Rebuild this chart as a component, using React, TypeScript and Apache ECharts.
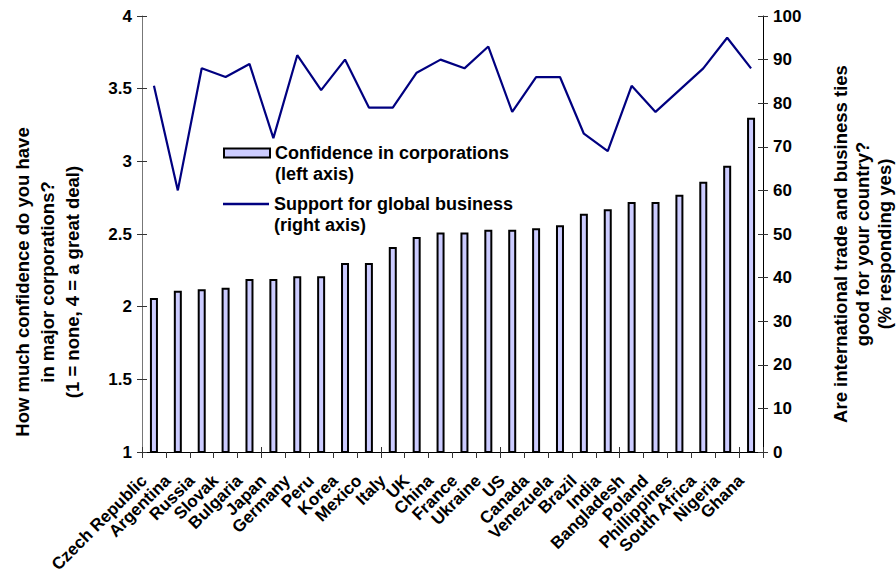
import { useEffect, useRef } from 'react';
import * as echarts from 'echarts';

const countries = [
  'Czech Republic', 'Argentina', 'Russia', 'Slovak', 'Bulgaria', 'Japan', 'Germany', 'Peru',
  'Korea', 'Mexico', 'Italy', 'UK', 'China', 'France', 'Ukraine', 'US', 'Canada', 'Venezuela',
  'Brazil', 'India', 'Bangladesh', 'Poland', 'Phillippines', 'South Africa', 'Nigeria', 'Ghana',
];
const confidence = [
  2.06, 2.11, 2.12, 2.13, 2.19, 2.19, 2.21, 2.21, 2.3, 2.3, 2.41, 2.48, 2.51, 2.51, 2.53, 2.53,
  2.54, 2.56, 2.64, 2.67, 2.72, 2.72, 2.77, 2.86, 2.97, 3.3,
];
const support = [
  84, 60, 88, 86, 89, 72, 91, 83, 90, 79, 79, 87, 90, 88, 93, 78, 86, 86, 73, 69, 84, 78, 83, 88,
  95, 88,
];
const barName = 'Confidence in corporations';
const lineName = 'Support for global business';
const leftTitle = 'How much confidence do you have\nin major corporations?\n(1 = none, 4 = a great deal)';
const rightTitle = 'Are international trade and business ties\ngood for your country?\n(% responding yes)';

const FONT = "'Liberation Sans', Arial, sans-serif";

export default function App() {
  const ref = useRef<HTMLDivElement>(null);
  useEffect(() => {
    document.body.style.margin = '0';
    if (!ref.current) return;
    const chart = echarts.init(ref.current, undefined, { renderer: 'svg' });
    const labelStyle = { color: '#000', fontWeight: 'bold' as const, fontSize: 17, fontFamily: FONT };
    const legendText = {
      color: '#000',
      fontWeight: 'bold' as const,
      fontSize: 18,
      fontFamily: FONT,
      lineHeight: 21,
    };
    chart.setOption({
      animation: false,
      textStyle: { fontFamily: FONT },
      grid: {
        left: 142,
        right: 133,
        top: 16,
        bottom: 127,
        containLabel: false,
        outerBoundsMode: 'none',
      },
      legend: [
        {
          data: [barName],
          left: 223,
          top: 121.5,
          padding: 0,
          icon: 'rect',
          itemWidth: 46,
          itemHeight: 9,
          itemGap: 5,
          formatter: (n: string) => '\n' + n + '\n(left axis)',
          textStyle: legendText,
          itemStyle: { borderColor: '#000', borderWidth: 2 },
        },
        {
          data: [lineName],
          left: 223,
          top: 172.5,
          padding: 0,
          icon: 'rect',
          itemWidth: 46,
          itemHeight: 2.4,
          formatter: (n: string) => '\n' + n + '\n(right axis)',
          textStyle: legendText,
          itemStyle: { color: '#000080', borderWidth: 0 },
        },
      ],
      xAxis: [
        {
          type: 'category',
          data: countries,
          axisLine: { onZero: false, lineStyle: { color: '#000', width: 1 } },
          axisTick: { show: true, length: 6, lineStyle: { color: '#333' } },
          axisLabel: {
            interval: 0,
            rotate: 45,
            margin: 16,
            color: '#000',
            fontWeight: 'bold',
            fontSize: 17,
            fontFamily: FONT,
            formatter: (v: string) => v + '\u00a0\u00a0\u00a0',
          },
          splitLine: { show: false },
        },
        {
          type: 'category',
          data: countries,
          position: 'bottom',
          axisLine: { show: false, onZero: false },
          axisTick: { show: true, inside: true, length: 5, lineStyle: { color: '#333' } },
          axisLabel: { show: false },
          splitLine: { show: false },
        },
      ],
      yAxis: [
        {
          type: 'value',
          min: 1,
          max: 4,
          interval: 0.5,
          position: 'left',
          axisLine: { show: true, lineStyle: { color: '#777' } },
          axisTick: { show: true, length: 5, lineStyle: { color: '#333' } },
          axisLabel: { ...labelStyle, margin: 10 },
          splitLine: { show: false },
        },
        {
          type: 'value',
          min: 0,
          max: 100,
          interval: 10,
          position: 'right',
          axisLine: { show: true, lineStyle: { color: '#000' } },
          axisTick: { show: true, length: 5, lineStyle: { color: '#333' } },
          axisLabel: { ...labelStyle, margin: 10 },
          splitLine: { show: false },
        },
        {
          type: 'value',
          min: 1,
          max: 4,
          interval: 0.5,
          position: 'left',
          axisLine: { show: false },
          axisTick: { show: true, inside: true, length: 5, lineStyle: { color: '#333' } },
          axisLabel: { show: false },
          splitLine: { show: false },
        },
        {
          type: 'value',
          min: 0,
          max: 100,
          interval: 10,
          position: 'right',
          axisLine: { show: false },
          axisTick: { show: true, inside: true, length: 5, lineStyle: { color: '#333' } },
          axisLabel: { show: false },
          splitLine: { show: false },
        },
      ],
      series: [
        {
          name: barName,
          type: 'bar',
          data: confidence,
          xAxisIndex: 0,
          yAxisIndex: 0,
          barWidth: 8,
          itemStyle: { color: '#ccccff', borderColor: '#000', borderWidth: 2 },
        },
        {
          name: lineName,
          type: 'line',
          data: support,
          xAxisIndex: 0,
          yAxisIndex: 1,
          symbol: 'none',
          lineStyle: { color: '#000080', width: 2.2 },
          itemStyle: { color: '#000080' },
        },
      ],
      graphic: [
        {
          type: 'text',
          x: 47,
          y: 282,
          rotation: Math.PI / 2,
          style: {
            text: leftTitle,
            font: `bold 18.5px ${FONT}`,
            fill: '#000',
            textAlign: 'center',
            textVerticalAlign: 'middle',
            lineHeight: 25,
          },
        },
        {
          type: 'text',
          x: 862,
          y: 244,
          rotation: Math.PI / 2,
          style: {
            text: rightTitle,
            font: `bold 18.5px ${FONT}`,
            fill: '#000',
            textAlign: 'center',
            textVerticalAlign: 'middle',
            lineHeight: 22,
          },
        },
      ],
    });
    return () => chart.dispose();
  }, []);
  return <div ref={ref} style={{ width: 896, height: 579 }} />;
}
